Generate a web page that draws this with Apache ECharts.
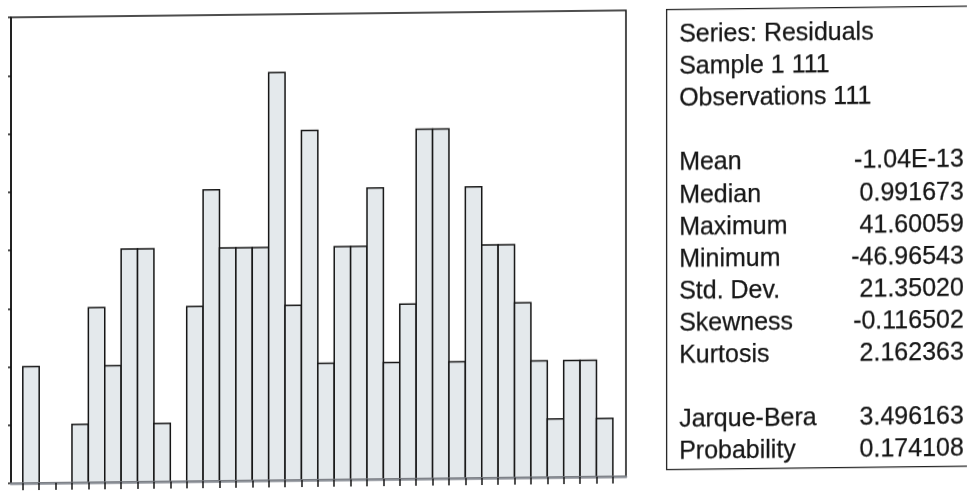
<!DOCTYPE html>
<html>
<head>
<meta charset="utf-8">
<script src="https://cdn.jsdelivr.net/npm/echarts@6/dist/echarts.min.js"></script>
<style>
  html, body { margin: 0; padding: 0; background: #ffffff; overflow: hidden; }
  #chart {
    width: 967px; height: 491px;
    transform: skewY(-0.65deg);
    transform-origin: 483.5px 245.5px;
  }
</style>
</head>
<body>
<div id="chart"></div>
<script>
// Residual histogram: bins of width 2.5 starting at -47.5
const binStart = -47.5;
const binWidth = 2.5;
const binCounts = [2, 0, 0, 1, 3, 2, 4, 4, 1, 0, 3, 5, 4, 4, 4, 7, 3, 6, 2, 4,
                   4, 5, 2, 3, 6, 6, 2, 5, 4, 4, 3, 2, 1, 2, 2, 1];

// Descriptive statistics panel
const headerLines = ['Series: Residuals', 'Sample 1 111', 'Observations 111'];
const statNames = ['Mean', 'Median', 'Maximum', 'Minimum', 'Std. Dev.', 'Skewness', 'Kurtosis'];
const statValues = ['-1.04E-13', '0.991673', '41.60059', '-46.96543', '21.35020', '-0.116502', '2.162363'];
const testNames = ['Jarque-Bera', 'Probability'];
const testValues = ['3.496163', '0.174108'];

const binEdges = binCounts.map((_, i) => binStart + i * binWidth).concat([binStart + binCounts.length * binWidth]);
const binData = binCounts.map((c, i) => [binEdges[i], binEdges[i + 1], c]);

const FONT = '"Liberation Sans", Arial, Helvetica, sans-serif';
const INK = '#161616';

const chart = echarts.init(document.getElementById('chart'), null, { renderer: 'canvas' });

// Build the stats panel rows (row index -> y position)
const rowY0 = 37;
const rowStep = 32.1;
const panelText = [];
function textStyle(str, align) {
  return { text: str, font: '25px ' + FONT, fill: INK, stroke: INK, lineWidth: 0.25, align: align };
}
function addRow(row, label, value) {
  const y = rowY0 + row * rowStep;
  panelText.push({ type: 'text', left: 679, top: y - 12.5, style: textStyle(label, 'left') });
  if (value !== undefined) {
    panelText.push({ type: 'text', right: 3, top: y - 12.5, style: textStyle(value, 'right') });
  }
}
headerLines.forEach((t, i) => addRow(i, t));
statNames.forEach((t, i) => addRow(4 + i, t, statValues[i]));
testNames.forEach((t, i) => addRow(12 + i, t, testValues[i]));

chart.setOption({
  animation: false,
  backgroundColor: '#ffffff',
  grid: {
    left: 11, right: 341, top: 12, bottom: 13,
    show: true, borderColor: '#151515', borderWidth: 1.5, backgroundColor: 'transparent'
  },
  xAxis: {
    type: 'value',
    min: -49.3, max: 44.5,
    z: 5,
    splitLine: { show: false },
    axisLabel: { show: false },
    axisLine: { show: true, onZero: false, lineStyle: { color: '#8a8f96', width: 2.5 } },
    axisTick: {
      show: true, inside: false, length: 7,
      customValues: binEdges,
      lineStyle: { color: '#151515', width: 1.5 }
    }
  },
  yAxis: {
    type: 'value',
    min: 0, max: 8, interval: 1,
    splitLine: { show: false },
    axisLabel: { show: false },
    axisLine: { show: true, onZero: false, lineStyle: { color: '#151515', width: 1.5 } },
    axisTick: { show: true, inside: false, length: 3, lineStyle: { color: '#151515', width: 1.5 } }
  },
  series: [{
    type: 'custom',
    data: binData,
    encode: { x: [0, 1], y: 2 },
    renderItem: function (params, api) {
      const lo = api.value(0), hi = api.value(1), c = api.value(2);
      if (!c) return null;
      const p0 = api.coord([lo, 0]);
      const p1 = api.coord([hi, c]);
      return {
        type: 'rect',
        shape: { x: p0[0], y: p1[1], width: p1[0] - p0[0], height: p0[1] - p1[1] },
        style: { fill: '#e4e9ec', stroke: '#151515', lineWidth: 1.5 }
      };
    }
  }],
  graphic: [{
    type: 'rect',
    left: 666, top: 11,
    shape: { width: 320, height: 460 },
    style: { fill: '#ffffff', stroke: '#222222', lineWidth: 1.3 }
  }].concat(panelText)
});
</script>
</body>
</html>
